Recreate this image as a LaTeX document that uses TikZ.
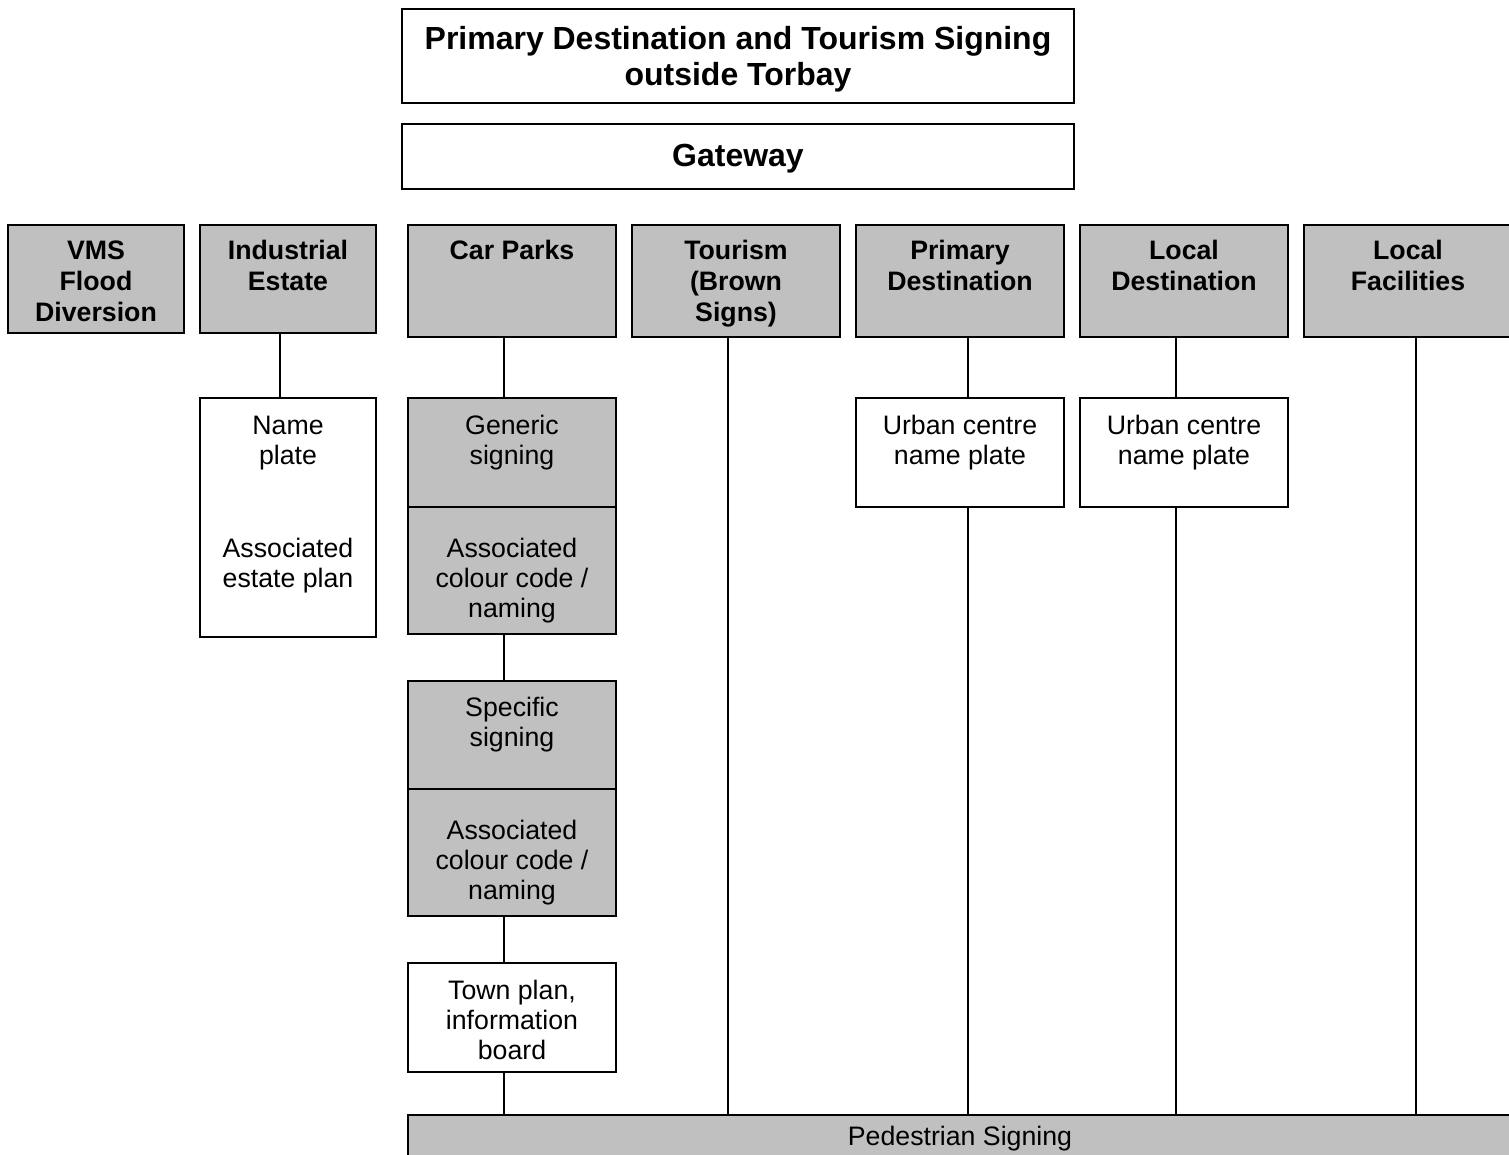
\documentclass[tikz,border=0pt]{standalone}
\usepackage{fontspec}
\setmainfont{Liberation Sans}
\usetikzlibrary{fit}
\definecolor{boxgray}{HTML}{C0C0C0}
\tikzset{
  frame/.style={draw=black, line width=1pt, inner sep=0pt, rectangle},
  gbox/.style={frame, fill=boxgray},
  wbox/.style={frame, fill=white},
  btext/.style={anchor=north, align=center, inner sep=0pt, font=\fontsize{15.2pt}{17.47pt}\selectfont\bfseries},
  rtext/.style={anchor=north, align=center, inner sep=0pt, font=\fontsize{15.2pt}{17.1pt}\selectfont},
  ttext/.style={anchor=north, align=center, inner sep=0pt, font=\fontsize{18.2pt}{20.5pt}\selectfont\bfseries},
  link/.style={draw=black, line width=0.8pt}
}
\begin{document}
\begin{tikzpicture}[x=0.02cm, y=-0.02cm]
\useasboundingbox (0,0) rectangle (1509,1155);
% top boxes
\node[wbox, fit={(402,9) (1074,103)}] (title) {};
\node[ttext] (titlet) at (738,24) {\strut Primary Destination and Tourism Signing\\outside Torbay};
\node[wbox, fit={(402,124) (1074,189)}] (gate) {};
\node[ttext] (gatet) at (738,141) {\strut Gateway};
% category boxes
\node[gbox, fit={(8,225) (184,333)}] (vms) {};
\node[btext] (vmst) at (96,238) {\strut VMS\\Flood\\Diversion};
\node[gbox, fit={(200,225) (376,333)}] (ind) {};
\node[btext] (indt) at (288,238) {\strut Industrial\\Estate};
\node[gbox, fit={(408,225) (616,337)}] (car) {};
\node[btext] (cart) at (512,238) {\strut Car Parks};
\node[gbox, fit={(632,225) (840,337)}] (tour) {};
\node[btext] (tourt) at (736,238) {\strut Tourism\\(Brown\\Signs)};
\node[gbox, fit={(856,225) (1064,337)}] (prim) {};
\node[btext] (primt) at (960,238) {\strut Primary\\Destination};
\node[gbox, fit={(1080,225) (1288,337)}] (ldest) {};
\node[btext] (ldestt) at (1184,238) {\strut Local\\Destination};
\node[gbox, fit={(1304,225) (1515,337)}] (lfac) {};
\node[btext] (lfact) at (1408,238) {\strut Local\\Facilities};
% second level
\node[wbox, fit={(200,398) (376,637)}] (name) {};
\node[rtext] (namet) at (288,413) {\strut Name\\plate};
\node[rtext] (assoct) at (288,536) {\strut Associated\\estate plan};
\node[gbox, fit={(408,398) (616,507)}] (gen) {};
\node[rtext] (gent) at (512,413) {\strut Generic\\signing};
\node[gbox, fit={(408,507) (616,634)}] (ac1) {};
\node[rtext] (ac1t) at (512,536) {\strut Associated\\colour code /\\naming};
\node[gbox, fit={(408,681) (616,789)}] (spec) {};
\node[rtext] (spect) at (512,695) {\strut Specific\\signing};
\node[gbox, fit={(408,789) (616,916)}] (ac2) {};
\node[rtext] (ac2t) at (512,818) {\strut Associated\\colour code /\\naming};
\node[wbox, fit={(408,963) (616,1072)}] (town) {};
\node[rtext] (townt) at (512,978) {\strut Town plan,\\information\\board};
\node[wbox, fit={(856,398) (1064,507)}] (urb1) {};
\node[rtext] (urb1t) at (960,413) {\strut Urban centre\\name plate};
\node[wbox, fit={(1080,398) (1288,507)}] (urb2) {};
\node[rtext] (urb2t) at (1184,413) {\strut Urban centre\\name plate};
% pedestrian
\node[gbox, fit={(408,1115) (1515,1162)}] (ped) {};
\node[rtext, anchor=center] (pedt) at (960,1139) {Pedestrian Signing};
% connector x positions
\coordinate (xi) at (280,0);
\coordinate (xc) at (504,0);
\coordinate (xt) at (728,0);
\coordinate (xp) at (968,0);
\coordinate (xl) at (1176,0);
\coordinate (xf) at (1416,0);
% connectors
\draw[link] (ind.south -| xi) -- (name.north -| xi);
\draw[link] (car.south -| xc) -- (gen.north -| xc);
\draw[link] (ac1.south -| xc) -- (spec.north -| xc);
\draw[link] (ac2.south -| xc) -- (town.north -| xc);
\draw[link] (town.south -| xc) -- (ped.north -| xc);
\draw[link] (tour.south -| xt) -- (ped.north -| xt);
\draw[link] (prim.south -| xp) -- (urb1.north -| xp);
\draw[link] (urb1.south -| xp) -- (ped.north -| xp);
\draw[link] (ldest.south -| xl) -- (urb2.north -| xl);
\draw[link] (urb2.south -| xl) -- (ped.north -| xl);
\draw[link] (lfac.south -| xf) -- (ped.north -| xf);
\end{tikzpicture}
\end{document}
